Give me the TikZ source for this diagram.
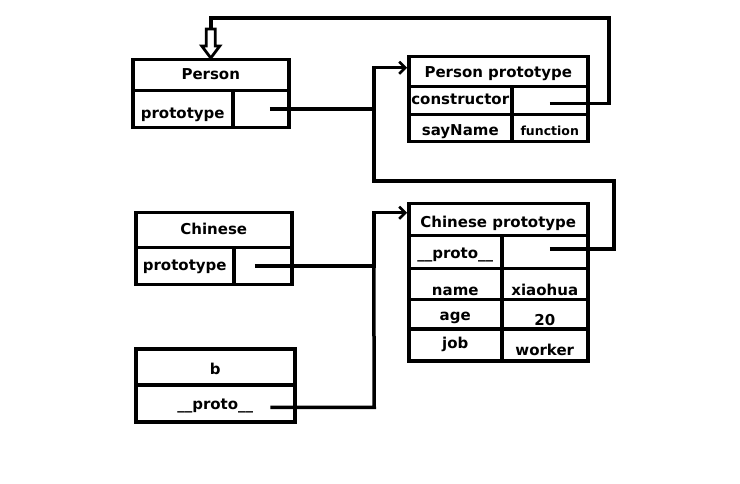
\documentclass[tikz,border=0pt]{standalone}
\usepackage{fontspec}
\setmainfont{DejaVu Sans}
\usetikzlibrary{arrows.meta}

\begin{document}
\begin{tikzpicture}[x=1pt, y=-1pt,
    cell/.style={draw, line width=3.5pt, inner sep=0pt, anchor=north west,
      text height=11pt, text depth=3pt,
      font=\bfseries\fontsize{15}{18}\selectfont},
    drop/.style={text height=#1},
    wire/.style={line width=3.5pt},
    pointer/.style={wire, -{Straight Barb[length=6pt, width=12pt, line width=2.5pt]}}]

    \useasboundingbox (0,0) rectangle (740,484);

    %% Object layout

    % Person
    \node[cell, minimum width=156pt, minimum height=31pt] (ph) at (131,58) {Person};
    \node[cell, drop=21pt, minimum width=100pt, minimum height=37pt] (pk) at (131,89) {prototype};
    \node[cell, minimum width=56pt, minimum height=37pt] (pv) at (231,89) {};

    % Person prototype
    \node[cell, drop=15pt, minimum width=179pt, minimum height=30pt] (pph) at (407,55) {Person prototype};
    \node[cell, minimum width=103pt, minimum height=28pt] (ck) at (407,85) {constructor};
    \node[cell, minimum width=76pt, minimum height=28pt] (cv) at (510,85) {};
    \node[cell, drop=17pt, minimum width=103pt, minimum height=27pt] (sk) at (407,113) {sayName};
    \node[cell, drop=17pt, minimum width=76pt, minimum height=27pt,
      font=\bfseries\fontsize{12.5}{14}\selectfont] (sv) at (510,113) {function};

    % Chinese
    \node[cell, minimum width=156pt, minimum height=35pt] (ch) at (134,211) {Chinese};
    \node[cell, minimum width=98pt, minimum height=37pt] (chk) at (134,246) {prototype};
    \node[cell, minimum width=58pt, minimum height=37pt] (chv) at (232,246) {};

    % b
    \node[cell, drop=19pt, minimum width=159pt, minimum height=36pt] (bh) at (134,347) {b};
    \node[cell, drop=15pt, minimum width=159pt, minimum height=37pt] (bk) at (134,383) {\_\_proto\_\_};

    % Chinese prototype
    \node[cell, drop=19pt, minimum width=179pt, minimum height=32pt] (cph) at (407,202) {Chinese prototype};
    \node[cell, drop=15pt, minimum width=93pt, minimum height=33pt] (uk) at (407,234) {\_\_proto\_\_};
    \node[cell, minimum width=86pt, minimum height=33pt] (uv) at (500,234) {};
    \node[cell, drop=25pt, minimum width=93pt, minimum height=31pt] (nk) at (407,267) {name};
    \node[cell, drop=25pt, minimum width=86pt, minimum height=31pt] (nv) at (500,267) {xiaohua};
    \node[cell, drop=15pt, minimum width=93pt, minimum height=29pt] (ak) at (407,298) {age};
    \node[cell, drop=25pt, minimum width=86pt, minimum height=29pt] (av) at (500,298) {20};
    \node[cell, minimum width=93pt, minimum height=32pt] (jk) at (407,327) {job};
    \node[cell, drop=25pt, minimum width=86pt, minimum height=32pt] (jv) at (500,327) {worker};

    %% Links

    % Person.prototype
    \draw[pointer] ([xshift=9pt]pv.center) -- ++(104,0) coordinate (trunk) |- ([yshift=4pt]pph.west);

    % Chinese prototype __proto__
    \coordinate (bend) at ([yshift=21pt]cph.north);
    \draw[wire] ([yshift=3pt, xshift=5pt]uv.center) -- ++(64,0) |- (bend -| trunk) -- (trunk);

    % constructor
    \coordinate (shaft) at ([yshift=29pt]ph.north);
    \coordinate (roof) at ([yshift=40pt]ph.north);
    \draw[wire] ([yshift=-3pt]cv.center) -- ++(59,0) |- (roof) -- (shaft);
    \draw[line width=2.8pt, fill=white] (ph.north) -- ++(-9,-12) -- ++(4.5,0) -- ++(0,-17)
      -- ++(9,0) -- ++(0,17) -- ++(4.5,0) -- cycle;

    % Chinese.prototype
    \draw[pointer] ([xshift=-8pt]chv.center) -- ++(119,0) coordinate (join) |- ([yshift=7pt]cph.west);

    % b.__proto__
    \draw[wire] ([xshift=55pt, yshift=-4pt]bk.center) -- ++(104,0) -- (join);

\end{tikzpicture}
\end{document}
